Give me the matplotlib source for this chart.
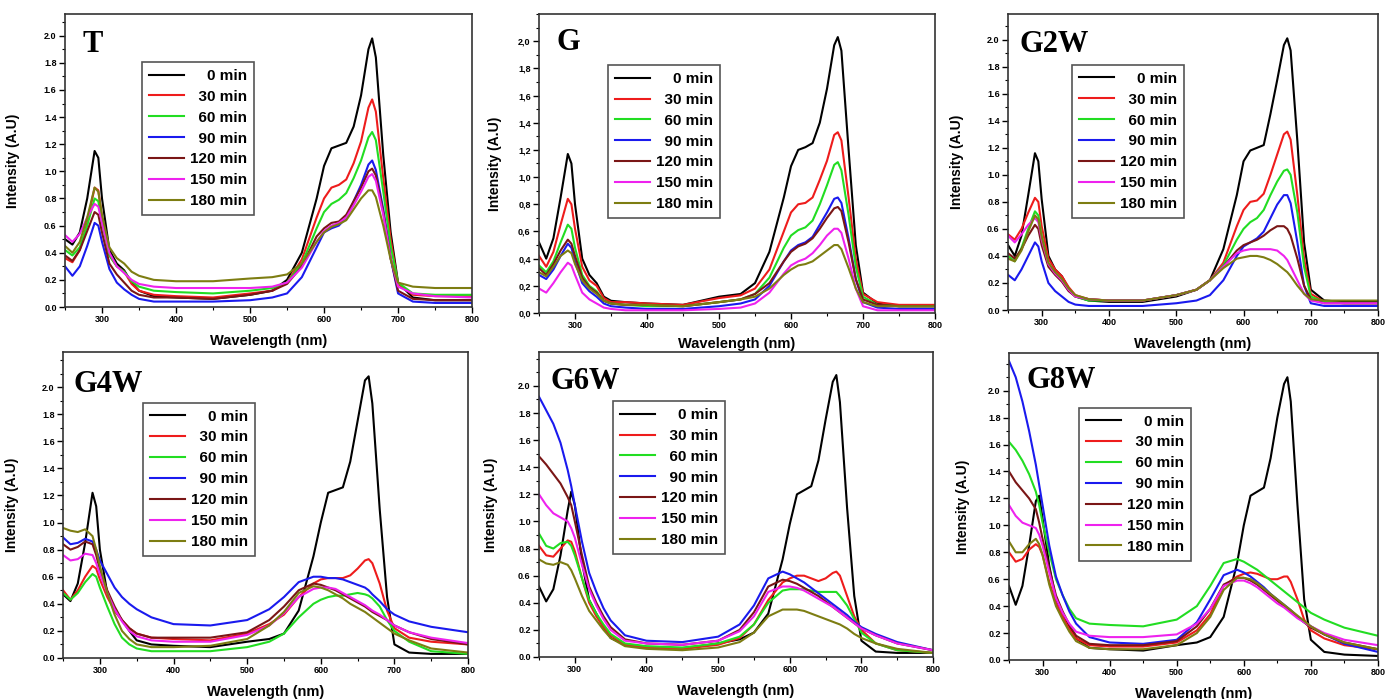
import numpy as np
import matplotlib
matplotlib.use("Agg")
import matplotlib.pyplot as plt
from matplotlib.ticker import MultipleLocator, FuncFormatter

plt.rcParams['font.family'] = ['Liberation Sans', 'DejaVu Sans']

# wavelength grid (nm) the spectra were read at
wl = [250, 260, 270, 280, 290, 295, 300, 310, 320, 330, 340, 350, 370, 400, 450, 500,
      530, 550, 570, 590, 600, 610, 620, 630, 640, 650, 660, 665, 670, 680, 690, 700,
      720, 750, 800]

times = ['0 min', '30 min', '60 min', '90 min', '120 min', '150 min', '180 min']
colors = ['#000000', '#ee1c1c', '#22dd22', '#1a1aee', '#7a1616', '#ee22ee', '#7d7d12']

# one list per irradiation time, order as in `times`
t_spectra = [
    [0.50, 0.46, 0.55, 0.80, 1.15, 1.10, 0.80, 0.42, 0.32, 0.27, 0.18, 0.12, 0.08, 0.07, 0.06, 0.09, 0.12, 0.20, 0.40, 0.80, 1.04, 1.17, 1.19, 1.21, 1.33, 1.56, 1.90, 1.98, 1.84, 1.12, 0.55, 0.18, 0.07, 0.05, 0.05],
    [0.36, 0.33, 0.42, 0.62, 0.88, 0.86, 0.66, 0.38, 0.30, 0.26, 0.17, 0.12, 0.09, 0.08, 0.07, 0.10, 0.12, 0.18, 0.35, 0.66, 0.80, 0.88, 0.90, 0.94, 1.06, 1.22, 1.47, 1.53, 1.44, 0.95, 0.50, 0.17, 0.09, 0.08, 0.08],
    [0.42, 0.38, 0.44, 0.60, 0.80, 0.78, 0.62, 0.38, 0.30, 0.26, 0.19, 0.15, 0.12, 0.11, 0.10, 0.12, 0.14, 0.18, 0.32, 0.58, 0.70, 0.76, 0.79, 0.84, 0.95, 1.08, 1.25, 1.29, 1.23, 0.85, 0.45, 0.18, 0.10, 0.09, 0.09],
    [0.30, 0.23, 0.30, 0.45, 0.62, 0.60, 0.48, 0.28, 0.18, 0.13, 0.09, 0.06, 0.04, 0.04, 0.04, 0.05, 0.07, 0.10, 0.22, 0.44, 0.55, 0.58, 0.60, 0.66, 0.78, 0.90, 1.05, 1.08, 1.01, 0.72, 0.36, 0.10, 0.04, 0.03, 0.03],
    [0.38, 0.34, 0.42, 0.56, 0.70, 0.68, 0.55, 0.32, 0.24, 0.18, 0.12, 0.09, 0.07, 0.07, 0.06, 0.09, 0.12, 0.17, 0.30, 0.52, 0.58, 0.62, 0.63, 0.68, 0.78, 0.88, 1.00, 1.02, 0.97, 0.70, 0.36, 0.12, 0.06, 0.05, 0.05],
    [0.53, 0.48, 0.54, 0.66, 0.76, 0.74, 0.62, 0.40, 0.30, 0.25, 0.20, 0.17, 0.15, 0.14, 0.14, 0.14, 0.15, 0.18, 0.29, 0.48, 0.56, 0.60, 0.62, 0.66, 0.75, 0.85, 0.96, 0.98, 0.93, 0.68, 0.36, 0.15, 0.10, 0.08, 0.07],
    [0.45, 0.40, 0.48, 0.66, 0.88, 0.85, 0.68, 0.44, 0.36, 0.32, 0.26, 0.23, 0.20, 0.19, 0.19, 0.21, 0.22, 0.24, 0.32, 0.48, 0.55, 0.59, 0.61, 0.64, 0.72, 0.80, 0.86, 0.86, 0.81, 0.60, 0.35, 0.18, 0.15, 0.14, 0.14],
]

g_spectra = [
    [0.52, 0.40, 0.55, 0.85, 1.17, 1.10, 0.80, 0.40, 0.28, 0.22, 0.12, 0.09, 0.08, 0.07, 0.06, 0.12, 0.14, 0.22, 0.45, 0.85, 1.08, 1.20, 1.22, 1.25, 1.40, 1.65, 1.97, 2.03, 1.93, 1.20, 0.50, 0.15, 0.07, 0.05, 0.05],
    [0.42, 0.34, 0.45, 0.65, 0.84, 0.80, 0.62, 0.34, 0.24, 0.20, 0.11, 0.08, 0.08, 0.07, 0.06, 0.11, 0.13, 0.18, 0.32, 0.60, 0.74, 0.80, 0.81, 0.85, 0.98, 1.12, 1.31, 1.33, 1.27, 0.85, 0.40, 0.14, 0.08, 0.06, 0.06],
    [0.35, 0.30, 0.38, 0.52, 0.65, 0.62, 0.48, 0.28, 0.20, 0.16, 0.09, 0.07, 0.06, 0.05, 0.05, 0.08, 0.10, 0.14, 0.26, 0.48, 0.57, 0.61, 0.63, 0.68, 0.80, 0.94, 1.09, 1.11, 1.05, 0.72, 0.34, 0.12, 0.06, 0.05, 0.05],
    [0.28, 0.25, 0.32, 0.42, 0.51, 0.48, 0.38, 0.22, 0.16, 0.12, 0.07, 0.05, 0.04, 0.03, 0.03, 0.05, 0.07, 0.10, 0.20, 0.38, 0.46, 0.50, 0.52, 0.56, 0.65, 0.74, 0.84, 0.85, 0.81, 0.55, 0.25, 0.08, 0.04, 0.03, 0.03],
    [0.33, 0.28, 0.36, 0.46, 0.54, 0.51, 0.42, 0.26, 0.19, 0.15, 0.09, 0.07, 0.06, 0.06, 0.05, 0.08, 0.10, 0.14, 0.22, 0.38, 0.45, 0.49, 0.51, 0.55, 0.62, 0.70, 0.77, 0.78, 0.75, 0.52, 0.25, 0.10, 0.06, 0.05, 0.05],
    [0.18, 0.15, 0.22, 0.30, 0.37, 0.35, 0.28, 0.15, 0.10, 0.07, 0.04, 0.03, 0.02, 0.02, 0.02, 0.03, 0.04, 0.07, 0.15, 0.29, 0.35, 0.38, 0.40, 0.44, 0.50, 0.57, 0.62, 0.62, 0.59, 0.40, 0.18, 0.05, 0.02, 0.02, 0.02],
    [0.30, 0.27, 0.34, 0.42, 0.46, 0.44, 0.36, 0.24, 0.18, 0.14, 0.09, 0.07, 0.06, 0.06, 0.05, 0.08, 0.10, 0.12, 0.18, 0.28, 0.32, 0.35, 0.36, 0.38, 0.42, 0.46, 0.50, 0.50, 0.47, 0.33, 0.18, 0.08, 0.05, 0.05, 0.05],
]

g2w_spectra = [
    [0.48, 0.40, 0.55, 0.85, 1.16, 1.10, 0.82, 0.40, 0.30, 0.25, 0.16, 0.10, 0.07, 0.06, 0.06, 0.10, 0.15, 0.22, 0.45, 0.85, 1.10, 1.18, 1.20, 1.22, 1.45, 1.70, 1.96, 2.01, 1.92, 1.25, 0.50, 0.15, 0.07, 0.06, 0.06],
    [0.56, 0.52, 0.60, 0.72, 0.83, 0.80, 0.62, 0.38, 0.30, 0.25, 0.17, 0.11, 0.08, 0.07, 0.07, 0.11, 0.15, 0.22, 0.35, 0.62, 0.74, 0.80, 0.81, 0.86, 1.00, 1.15, 1.30, 1.32, 1.26, 0.85, 0.38, 0.12, 0.06, 0.05, 0.05],
    [0.40, 0.36, 0.46, 0.60, 0.73, 0.70, 0.55, 0.34, 0.27, 0.22, 0.15, 0.10, 0.07, 0.07, 0.07, 0.11, 0.15, 0.22, 0.33, 0.52, 0.60, 0.65, 0.68, 0.74, 0.85, 0.95, 1.03, 1.04, 1.00, 0.72, 0.32, 0.10, 0.06, 0.05, 0.05],
    [0.26, 0.22, 0.30, 0.40, 0.50, 0.47, 0.36, 0.20, 0.14, 0.10, 0.06, 0.04, 0.03, 0.03, 0.03, 0.05, 0.07, 0.11, 0.22, 0.40, 0.47, 0.50, 0.53, 0.58, 0.68, 0.78, 0.85, 0.85, 0.79, 0.50, 0.18, 0.05, 0.03, 0.03, 0.03],
    [0.42, 0.38, 0.45, 0.55, 0.63, 0.60, 0.48, 0.32, 0.26, 0.21, 0.14, 0.10, 0.08, 0.07, 0.07, 0.11, 0.15, 0.22, 0.32, 0.44, 0.48, 0.50, 0.52, 0.55, 0.59, 0.62, 0.62, 0.60, 0.55, 0.38, 0.18, 0.08, 0.05, 0.05, 0.05],
    [0.55, 0.50, 0.56, 0.63, 0.68, 0.65, 0.52, 0.34, 0.27, 0.22, 0.15, 0.10, 0.08, 0.07, 0.07, 0.11, 0.15, 0.22, 0.32, 0.42, 0.44, 0.45, 0.45, 0.45, 0.45, 0.44, 0.40, 0.37, 0.32, 0.22, 0.12, 0.07, 0.05, 0.05, 0.05],
    [0.38, 0.36, 0.44, 0.58, 0.70, 0.67, 0.54, 0.35, 0.28, 0.23, 0.16, 0.11, 0.08, 0.07, 0.07, 0.11, 0.15, 0.22, 0.31, 0.38, 0.39, 0.40, 0.40, 0.39, 0.37, 0.34, 0.30, 0.28, 0.25, 0.18, 0.12, 0.08, 0.07, 0.07, 0.07],
]

g4w_spectra = [
    [0.47, 0.42, 0.55, 0.85, 1.22, 1.12, 0.80, 0.48, 0.35, 0.28, 0.20, 0.13, 0.10, 0.09, 0.08, 0.12, 0.14, 0.18, 0.35, 0.75, 1.00, 1.22, 1.24, 1.26, 1.45, 1.75, 2.05, 2.08, 1.88, 1.10, 0.45, 0.10, 0.04, 0.03, 0.03],
    [0.50, 0.43, 0.50, 0.60, 0.68, 0.66, 0.58, 0.45, 0.35, 0.28, 0.22, 0.18, 0.15, 0.14, 0.13, 0.18, 0.25, 0.32, 0.45, 0.55, 0.58, 0.59, 0.59, 0.59, 0.61, 0.66, 0.72, 0.73, 0.70, 0.55, 0.35, 0.22, 0.15, 0.12, 0.10],
    [0.48, 0.43, 0.48, 0.56, 0.62, 0.60, 0.52, 0.38, 0.25, 0.15, 0.10, 0.07, 0.05, 0.05, 0.05, 0.08, 0.12, 0.18, 0.30, 0.40, 0.43, 0.45, 0.46, 0.46, 0.47, 0.48, 0.47, 0.46, 0.44, 0.38, 0.28, 0.20, 0.12, 0.05, 0.03],
    [0.89, 0.84, 0.85, 0.88, 0.86, 0.80, 0.72, 0.62, 0.52, 0.45, 0.40, 0.36, 0.30, 0.25, 0.24, 0.28, 0.36, 0.45, 0.56, 0.60, 0.60, 0.59, 0.59, 0.58, 0.56, 0.54, 0.52, 0.50, 0.47, 0.42, 0.36, 0.32, 0.27, 0.23, 0.19],
    [0.84, 0.80, 0.82, 0.86, 0.84, 0.76, 0.65, 0.50, 0.38, 0.28, 0.22, 0.18, 0.15, 0.15, 0.15, 0.19, 0.28, 0.38, 0.50, 0.55, 0.54, 0.52, 0.50, 0.47, 0.44, 0.41, 0.38, 0.36, 0.34, 0.31, 0.28, 0.24, 0.19, 0.14, 0.10],
    [0.76, 0.72, 0.73, 0.77, 0.76, 0.70, 0.62, 0.48, 0.36, 0.27, 0.20, 0.16, 0.13, 0.12, 0.12, 0.17, 0.24, 0.33, 0.45, 0.51, 0.52, 0.52, 0.51, 0.48, 0.45, 0.42, 0.39, 0.37, 0.35, 0.32, 0.28, 0.24, 0.19, 0.15, 0.11],
    [0.96, 0.94, 0.93, 0.95, 0.90, 0.80, 0.68, 0.48, 0.32, 0.20, 0.14, 0.10, 0.08, 0.08, 0.09, 0.14, 0.24, 0.34, 0.48, 0.53, 0.52, 0.50, 0.47, 0.44, 0.40, 0.37, 0.34, 0.32, 0.30, 0.26, 0.22, 0.18, 0.13, 0.07, 0.04],
]

g6w_spectra = [
    [0.52, 0.41, 0.50, 0.75, 1.08, 1.22, 1.12, 0.70, 0.42, 0.32, 0.22, 0.14, 0.09, 0.07, 0.06, 0.10, 0.13, 0.18, 0.32, 0.72, 0.98, 1.20, 1.23, 1.26, 1.45, 1.75, 2.03, 2.08, 1.88, 1.10, 0.45, 0.12, 0.04, 0.03, 0.03],
    [0.82, 0.75, 0.74, 0.80, 0.86, 0.85, 0.78, 0.58, 0.40, 0.30, 0.22, 0.16, 0.09, 0.07, 0.06, 0.09, 0.14, 0.24, 0.42, 0.55, 0.58, 0.60, 0.60, 0.58, 0.56, 0.58, 0.62, 0.63, 0.60, 0.45, 0.30, 0.20, 0.10, 0.05, 0.03],
    [0.91, 0.82, 0.80, 0.84, 0.85, 0.82, 0.75, 0.58, 0.42, 0.32, 0.24, 0.17, 0.10, 0.08, 0.07, 0.10, 0.15, 0.24, 0.40, 0.49, 0.50, 0.50, 0.50, 0.49, 0.48, 0.48, 0.48, 0.48, 0.45, 0.38, 0.28, 0.18, 0.10, 0.05, 0.03],
    [1.92, 1.82, 1.72, 1.58, 1.38, 1.26, 1.12, 0.85, 0.62, 0.48, 0.36, 0.27, 0.16, 0.12, 0.11, 0.15, 0.24, 0.38, 0.58, 0.63, 0.61, 0.58, 0.55, 0.51, 0.47, 0.43, 0.39, 0.37, 0.35, 0.31, 0.26, 0.22, 0.17, 0.11, 0.05],
    [1.48, 1.42, 1.35, 1.28, 1.18, 1.12, 1.00, 0.75, 0.52, 0.40, 0.30, 0.22, 0.13, 0.10, 0.09, 0.12, 0.20, 0.33, 0.52, 0.57, 0.56, 0.54, 0.51, 0.48, 0.45, 0.41, 0.37, 0.35, 0.33, 0.29, 0.25, 0.21, 0.16, 0.10, 0.05],
    [1.20, 1.12, 1.06, 1.03, 1.00, 0.95, 0.88, 0.68, 0.50, 0.38, 0.28, 0.20, 0.12, 0.10, 0.09, 0.12, 0.19, 0.30, 0.48, 0.52, 0.52, 0.51, 0.49, 0.46, 0.43, 0.40, 0.37, 0.35, 0.33, 0.29, 0.25, 0.21, 0.16, 0.10, 0.05],
    [0.72, 0.69, 0.68, 0.70, 0.68, 0.64, 0.58, 0.45, 0.34, 0.27, 0.20, 0.14, 0.08, 0.06, 0.05, 0.07, 0.11, 0.18, 0.30, 0.35, 0.35, 0.35, 0.34, 0.32, 0.30, 0.28, 0.26, 0.25, 0.24, 0.21, 0.17, 0.14, 0.10, 0.06, 0.03],
]

g8w_spectra = [
    [0.55, 0.41, 0.55, 0.85, 1.18, 1.22, 1.05, 0.70, 0.45, 0.35, 0.25, 0.16, 0.09, 0.08, 0.07, 0.11, 0.13, 0.17, 0.32, 0.72, 1.00, 1.22, 1.25, 1.28, 1.50, 1.80, 2.05, 2.10, 1.92, 1.15, 0.45, 0.15, 0.06, 0.04, 0.03],
    [0.80, 0.73, 0.75, 0.82, 0.86, 0.84, 0.78, 0.58, 0.42, 0.32, 0.23, 0.16, 0.11, 0.10, 0.10, 0.13, 0.22, 0.34, 0.55, 0.62, 0.64, 0.65, 0.64, 0.62, 0.60, 0.60, 0.62, 0.62, 0.58, 0.45, 0.30, 0.22, 0.16, 0.11, 0.08],
    [1.62, 1.56, 1.48, 1.38, 1.25, 1.15, 1.02, 0.80, 0.60, 0.48, 0.38, 0.31, 0.27, 0.26, 0.25, 0.30, 0.40, 0.55, 0.72, 0.75, 0.73, 0.70, 0.67, 0.63, 0.59, 0.55, 0.51, 0.49, 0.47, 0.43, 0.39, 0.35, 0.30, 0.24, 0.18],
    [2.22, 2.10, 1.92, 1.70, 1.45, 1.30, 1.15, 0.85, 0.62, 0.48, 0.36, 0.27, 0.17, 0.13, 0.12, 0.15, 0.28, 0.45, 0.63, 0.67, 0.65, 0.62, 0.58, 0.54, 0.49, 0.45, 0.41, 0.39, 0.37, 0.32, 0.28, 0.25, 0.19, 0.12, 0.06],
    [1.40, 1.32, 1.26, 1.20, 1.12, 1.02, 0.90, 0.68, 0.48, 0.36, 0.26, 0.18, 0.12, 0.11, 0.11, 0.14, 0.25, 0.38, 0.56, 0.61, 0.61, 0.59, 0.56, 0.52, 0.48, 0.44, 0.40, 0.38, 0.36, 0.32, 0.28, 0.24, 0.19, 0.13, 0.08],
    [1.15, 1.07, 1.02, 1.00, 0.98, 0.93, 0.85, 0.65, 0.46, 0.35, 0.27, 0.21, 0.18, 0.17, 0.17, 0.19, 0.27, 0.38, 0.55, 0.59, 0.59, 0.57, 0.54, 0.50, 0.46, 0.42, 0.39, 0.37, 0.35, 0.31, 0.28, 0.25, 0.20, 0.15, 0.11],
    [0.88, 0.80, 0.80, 0.86, 0.90, 0.86, 0.78, 0.56, 0.40, 0.30, 0.21, 0.14, 0.09, 0.08, 0.08, 0.11, 0.20, 0.32, 0.52, 0.61, 0.61, 0.60, 0.57, 0.53, 0.49, 0.45, 0.41, 0.39, 0.37, 0.33, 0.29, 0.25, 0.19, 0.13, 0.08],
]

panel_names = ['T', 'G', 'G2W', 'G4W', 'G6W', 'G8W']
panel_data = [t_spectra, g_spectra, g2w_spectra, g4w_spectra, g6w_spectra, g8w_spectra]

axes_rects = [
    [0.0469, 0.5608, 0.2937, 0.4192],
    [0.3889, 0.5522, 0.2857, 0.4278],
    [0.7273, 0.5565, 0.2670, 0.4235],
    [0.0455, 0.0587, 0.2922, 0.4378],
    [0.3889, 0.0601, 0.2843, 0.4363],
    [0.7280, 0.0558, 0.2662, 0.4392],
]
ytops = [2.16, 2.20, 2.19, 2.26, 2.25, 2.28]
legend_pos = [(0.189, 0.836), (0.174, 0.829), (0.172, 0.828),
              (0.198, 0.834), (0.188, 0.839), (0.190, 0.822)]
name_pos = [(0.042, 0.87), (0.043, 0.88), (0.032, 0.873),
            (0.025, 0.87), (0.028, 0.88), (0.048, 0.885)]
ylab_x = [-0.11, -0.094, -0.12, -0.11, -0.104, -0.106]

# pad with figure spaces so the labels sit right-aligned
leg_labels = [t.rjust(7, '\u2007') for t in times]

fig = plt.figure(figsize=(13.86, 6.99), dpi=100)

for i in range(6):
    ax = fig.add_axes(axes_rects[i])
    ax.patch.set_alpha(0)   # so the upper x-labels are not hidden by lower panels
    for k in range(7):
        ax.plot(wl, panel_data[i][k], color=colors[k], lw=1.5, label=leg_labels[k])
    ax.set_xlim(250, 800)
    ax.set_ylim(0, ytops[i])
    ax.xaxis.set_major_locator(MultipleLocator(100))
    ax.xaxis.set_minor_locator(MultipleLocator(50))
    ax.yaxis.set_minor_locator(MultipleLocator(0.1))
    ax.set_yticks([v / 10 for v in range(0, 21, 2)])
    if panel_names[i] == 'G':
        ax.yaxis.set_major_formatter(FuncFormatter(lambda v, p: f'{v:.1f}'.replace('.', ',')))
    else:
        ax.yaxis.set_major_formatter(FuncFormatter(lambda v, p: f'{v:.1f}'))
    ax.tick_params(which='major', direction='out', length=4, width=1, labelsize=6.5, pad=2)
    ax.tick_params(which='minor', direction='out', length=2, width=0.8)
    for lab in ax.get_xticklabels() + ax.get_yticklabels():
        lab.set_fontweight('bold')
    for s in ax.spines.values():
        s.set_linewidth(1.2)
        s.set_color('#333333')
    ax.set_xlabel('Wavelength (nm)', fontsize=10.5, fontweight='bold',
                  labelpad=5 if i == 1 else 7)
    ax.set_ylabel('Intensity (A.U)', fontsize=10, fontweight='bold')
    ax.yaxis.set_label_coords(ylab_x[i], 0.5)
    ax.text(name_pos[i][0], name_pos[i][1], panel_names[i], transform=ax.transAxes,
            fontsize=22, fontweight='bold', family='Liberation Serif', va='baseline')
    leg = ax.legend(loc='upper left', bbox_to_anchor=legend_pos[i], fancybox=False,
                    edgecolor='#555555', framealpha=1, borderaxespad=0,
                    prop={'weight': 'bold', 'size': 11}, handlelength=2.3,
                    handletextpad=0.4, labelspacing=0.45, borderpad=0.45)
    leg.get_frame().set_linewidth(1.2)

fig.savefig('out.png', dpi=100)
